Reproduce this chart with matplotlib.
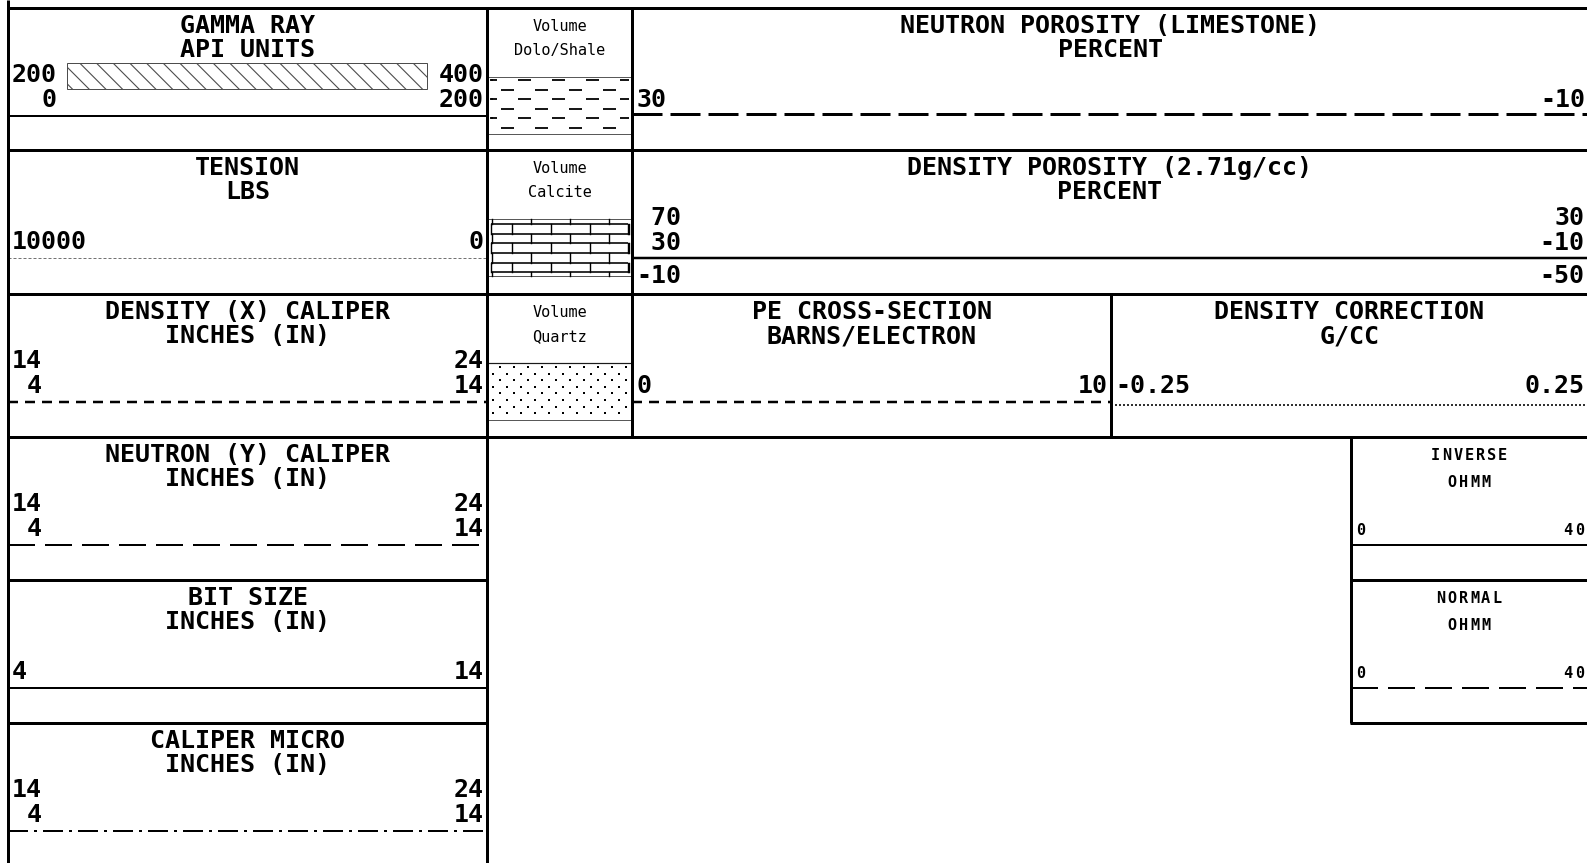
import numpy as np
import matplotlib
matplotlib.use("Agg")
import matplotlib.pyplot as plt
from matplotlib.patches import Rectangle

plt.rcParams['lines.scale_dashes'] = False
plt.rcParams['hatch.linewidth'] = 0.8

# ---- 数据: 道头文字与刻度 ----
left_titles = [["GAMMA RAY", "API UNITS"], ["TENSION", "LBS"],
               ["DENSITY (X) CALIPER", "INCHES (IN)"], ["NEUTRON (Y) CALIPER", "INCHES (IN)"],
               ["BIT SIZE", "INCHES (IN)"], ["CALIPER MICRO", "INCHES (IN)"]]
left_lo = [["200", "0"], ["10000"], ["14", "4"], ["14", "4"], ["4"], ["14", "4"]]
left_hi = [["400", "200"], ["0"], ["24", "14"], ["24", "14"], ["14"], ["24", "14"]]
left_styles = ["solid", "dotted", "dashed", "longdash", "solid", "dashdot"]

volume_titles = [["Volume", "Dolo/Shale"], ["Volume", "Calcite"], ["Volume", "Quartz"]]
volume_fills = ["shale", "calcite", "quartz"]

neutron_title = ["NEUTRON POROSITY (LIMESTONE)", "PERCENT"]
neutron_lo = ["30"]
neutron_hi = ["-10"]
density_title = ["DENSITY POROSITY (2.71g/cc)", "PERCENT"]
density_lo = ["70", "30", "-10"]
density_hi = ["30", "-10", "-50"]
pe_title = ["PE CROSS-SECTION", "BARNS/ELECTRON"]
pe_lo = ["0"]
pe_hi = ["10"]
dcor_title = ["DENSITY CORRECTION", "G/CC"]
dcor_lo = ["-0.25"]
dcor_hi = ["0.25"]
res_titles = [["INVERSE", "OHMM"], ["NORMAL", "OHMM"]]
res_lo = ["0", "0"]
res_hi = ["40", "40"]
res_styles = ["solid", "longdash"]

# ---- 版面 (像素) ----
W, H = 1587, 863
P = 0.72  # 像素 -> 磅
tops = [8, 150, 294, 437, 580, 723]
xL, xV, xR, xPE, xRes = 8, 487, 632, 1111, 1351
MONO = "DejaVu Sans Mono"
FS = 18

fig = plt.figure(figsize=(W / 100, H / 100), dpi=100)
ax = fig.add_axes([0, 0, 1, 1])
ax.set_xlim(0, W)
ax.set_ylim(H, 0)
ax.axis("off")

styles = {
    "solid": dict(ls="-", lw=2 * P, color="k"),
    "dotted": dict(ls=(0, (3 * P, 2 * P)), lw=1 * P, color="0.45"),
    "dashed": dict(ls=(0, (10 * P, 7 * P)), lw=2.5 * P, color="k"),
    "longdash": dict(ls=(0, (27 * P, 10 * P)), lw=2 * P, color="k"),
    "dashdot": dict(ls=(0, (20 * P, 6 * P, 3 * P, 6 * P)), lw=2 * P, color="k"),
    "fine": dict(ls=(0, (2 * P, 2 * P)), lw=1.6 * P, color="k"),
    "heavydash": dict(ls=(0, (30 * P, 8 * P)), lw=3 * P, color="k"),
}


def hline(y, x0, x1, lw=3, **kw):
    ax.plot([x0, x1], [y, y], color=kw.pop("color", "k"), lw=lw * P, solid_capstyle="butt", **kw)


def vline(x, y0, y1, lw=3):
    ax.plot([x, x], [y0, y1], color="k", lw=lw * P, solid_capstyle="butt")


def put(x, y, s, ha="center", size=FS, weight="bold"):
    ax.text(x, y, s, ha=ha, va="baseline", fontsize=size, family=MONO, weight=weight)


def put_spaced(x, y, s, ha="center", pitch=11.2, size=11):
    # 等间距逐字放置 (模拟加宽字距)
    n = len(s)
    if ha == "center":
        x0 = x - pitch * n / 2
    elif ha == "left":
        x0 = x
    else:
        x0 = x - pitch * n
    for k, c in enumerate(s):
        ax.text(x0 + pitch * (k + 0.5), y, c, ha="center", va="baseline",
                fontsize=size, family=MONO, weight="bold")


def track(x0, x1, top, title, lo, hi, style, line_dy=108, rows=(74, 99)):
    xc = (x0 + x1) / 2
    put(xc, top + 25, title[0])
    put(xc, top + 49, title[1])
    w = max(len(s) for s in lo)
    for s, dy in zip(lo, rows[-len(lo):]):
        put(x0 + 4, top + dy, s.rjust(w), ha="left")
    w = max(len(s) for s in hi)
    for s, dy in zip(hi, rows[-len(hi):]):
        put(x1 - 3, top + dy, s.rjust(w), ha="right")
    ax.plot([x0, x1], [top + line_dy] * 2, solid_capstyle="butt", **styles[style])


# ---- 左侧六道 ----
for i in range(6):
    track(xL, xV, tops[i], left_titles[i], left_lo[i], left_hi[i], left_styles[i])

# 伽马射线图例条 (斜线填充)
ax.add_patch(Rectangle((67, tops[0] + 55), 360, 26, facecolor="white",
                       edgecolor="0.3", hatch="\\\\", lw=1 * P))

# ---- 岩性列 ----
def shale(y0, y1):
    hline(y0, xV + 1, xR - 1, lw=1, color="0.35")
    hline(y1, xV + 1, xR - 1, lw=1, color="0.35")
    for i in range(6):
        y = y0 + 3 + i * 9.6
        off = 6 if i % 2 == 0 else 23
        ax.plot([xV + 3, xR - 3], [y, y], color="k", lw=1.8 * P,
                ls=(off * P, (13 * P, 21 * P)), solid_capstyle="butt")
        # 左缘小点
        if i % 2 == 0:
            ax.plot([xV + 4, xV + 6], [y, y], color="k", lw=1.5 * P, solid_capstyle="butt")


def calcite(y0, y1):
    hline(y0, xV + 1, xR - 1, lw=1, color="0.35")
    hline(y1, xV + 1, xR - 1, lw=1, color="0.35")
    ys = [y0, y0 + 5, y0 + 15, y0 + 24, y0 + 34, y0 + 44, y0 + 53, y1]
    for y in ys[1:-1]:
        hline(y, xV + 4, xR - 4, lw=1.6)
    for j in range(len(ys) - 1):
        off = 5 if j % 2 == 0 else 25
        for x in np.arange(xV + off, xR - 2, 39):
            ax.plot([x, x], [ys[j], ys[j + 1]], color="k", lw=1.4 * P)
        if j % 2 == 1:
            ax.plot([xV + 4, xV + 4], [ys[j], ys[j + 1]], color="k", lw=1.4 * P)
            ax.plot([xR - 4, xR - 4], [ys[j], ys[j + 1]], color="k", lw=1.4 * P)


def quartz(y0, y1):
    hline(y0, xV + 1, xR - 1, lw=1.2, color="0.1")
    hline(y1, xV + 1, xR - 1, lw=1, color="0.35")
    for i, y in enumerate(np.arange(y0 + 4, y1 - 2, 6.6)):
        off = 7 if i % 2 == 0 else 0
        xs = np.arange(xV + 6 + off, xR - 3, 14)
        ax.plot(xs, [y] * len(xs), ls="none", marker="s", ms=2.1, color="k", mew=0)


fills = {"shale": shale, "calcite": calcite, "quartz": quartz}
for i in range(3):
    top = tops[i]
    put((xV + xR) / 2, top + 23, volume_titles[i][0], size=11, weight="normal")
    put((xV + xR) / 2, top + 47, volume_titles[i][1], size=11, weight="normal")
    fills[volume_fills[i]](top + 69, top + 126)

# ---- 右侧孔隙度/PE/密度校正 ----
track(xR, W + 1, tops[0], neutron_title, neutron_lo, neutron_hi, "heavydash", line_dy=106)
put((xR + W) / 2, tops[1] + 25, density_title[0])
put((xR + W) / 2, tops[1] + 49, density_title[1])
w = max(len(s) for s in density_lo)
for s, dy in zip(density_lo, [75, 100, 133]):
    put(xR + 4, tops[1] + dy, s.rjust(w), ha="left")
for s, dy in zip(density_hi, [75, 100, 133]):
    put(W - 3, tops[1] + dy, s, ha="right")
hline(tops[1] + 108, xR, W, lw=2.5)

track(xR, xPE, tops[2], pe_title, pe_lo, pe_hi, "dashed")
track(xPE, W + 1, tops[2], dcor_title, dcor_lo, dcor_hi, "fine", line_dy=111)

# ---- 电阻率 ----
for i in range(2):
    top = tops[3 + i]
    xc = (xRes + W) / 2
    put_spaced(xc, top + 23, res_titles[i][0])
    put_spaced(xc, top + 50, res_titles[i][1])
    put_spaced(xRes + 4, top + 98, res_lo[i], ha="left")
    put_spaced(W - 2, top + 98, res_hi[i], ha="right")
    ax.plot([xRes, W], [top + 108] * 2, solid_capstyle="butt", **styles[res_styles[i]])

# ---- 边框 ----
for y in tops[:4]:
    hline(y, xL - 1, W)
for y in tops[4:]:
    hline(y, xL - 1, xV + 1)
    hline(y, xRes - 1, W)
vline(xL, 0, H)
vline(xV, tops[0], H)
vline(xR, tops[0], tops[3])
vline(xPE, tops[2], tops[3])
vline(xRes, tops[3], tops[5])

fig.savefig("out.png", dpi=100, facecolor="white")
